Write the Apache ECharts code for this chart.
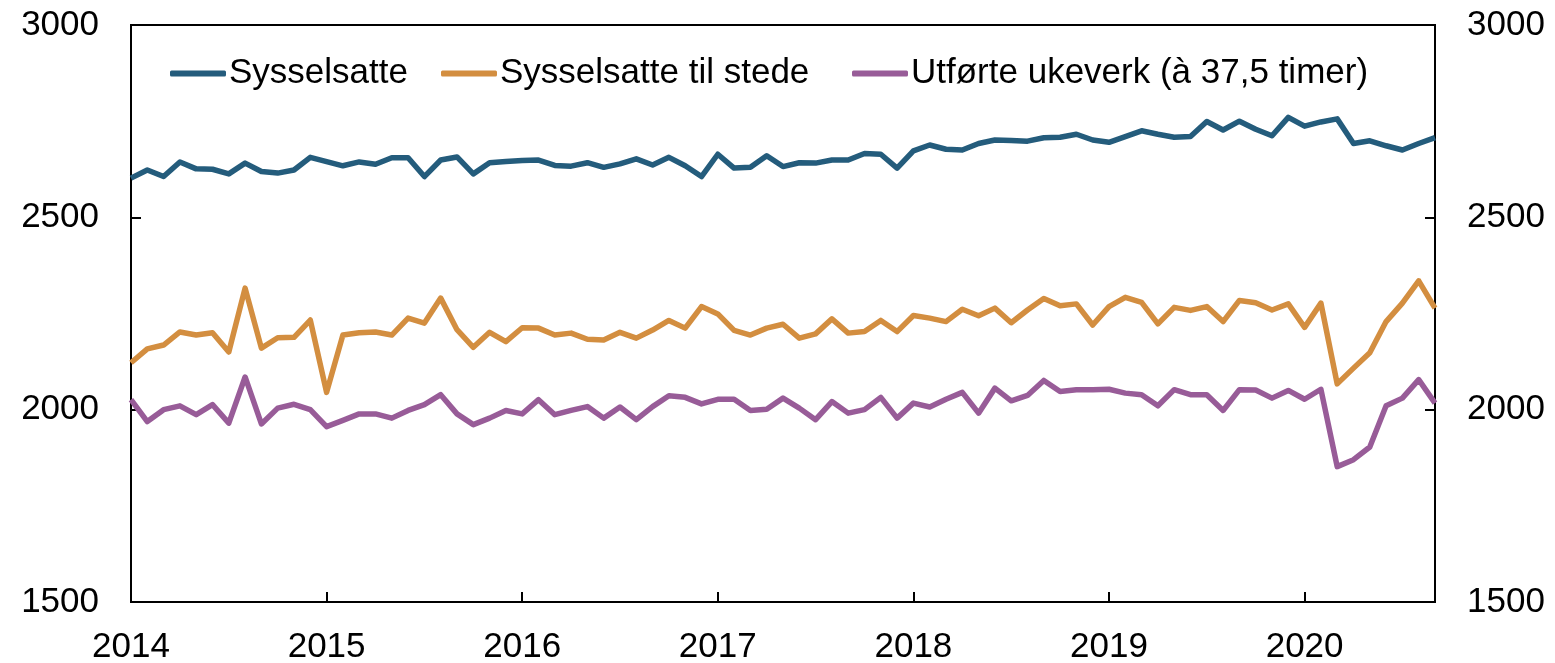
<!DOCTYPE html>
<html>
<head>
<meta charset="utf-8">
<script src="https://cdn.jsdelivr.net/npm/echarts@6/dist/echarts.min.js"></script>
<style>
html,body{margin:0;padding:0;background:#fff;}
#chart{width:1555px;height:663px;}
</style>
</head>
<body>
<div id="chart"></div>
<script>
// Tick labels / categories
const years = [2014, 2015, 2016, 2017, 2018, 2019, 2020];
const yTicks = [1500, 2000, 2500, 3000];
const seriesNames = ['Sysselsatte', 'Sysselsatte til stede', 'Utførte ukeverk (à 37,5 timer)'];

// Monthly values, Jan 2014 - Sep 2020 (thousands)
const sysselsatte = [2602,2623,2606,2644,2626,2625,2613,2641,2619,2615,2623,2656,
2645,2634,2644,2638,2655,2655,2606,2649,2657,2613,2642,2645,
2648,2649,2635,2633,2642,2630,2639,2652,2636,2656,2634,2606,
2664,2628,2630,2660,2632,2642,2641,2649,2649,2666,2664,2628,
2673,2688,2677,2675,2692,2701,2700,2698,2707,2708,2716,2701,
2695,2710,2725,2716,2708,2710,2749,2727,2750,2729,2712,2760,
2737,2748,2756,2692,2699,2686,2675,2692,2707];

const tilStede = [2122,2158,2168,2202,2194,2200,2150,2316,2160,2187,2188,2233,
2045,2194,2200,2202,2194,2238,2225,2290,2208,2162,2201,2177,
2213,2212,2194,2199,2183,2181,2201,2186,2207,2232,2212,2268,
2249,2206,2194,2212,2222,2186,2197,2236,2199,2203,2232,2203,
2245,2238,2229,2261,2244,2264,2226,2259,2289,2270,2275,2220,
2268,2292,2279,2223,2266,2258,2268,2229,2284,2278,2259,2275,
2214,2277,2067,2108,2148,2229,2277,2335,2264];

const ukeverk = [2026,1969,2000,2010,1987,2013,1965,2085,1963,2004,2014,2000,
1956,1972,1989,1989,1978,1998,2013,2039,1989,1961,1978,1998,
1989,2026,1987,1998,2008,1978,2007,1974,2008,2036,2032,2015,
2027,2027,1998,2001,2030,2004,1974,2021,1991,2000,2032,1978,
2017,2007,2027,2045,1991,2056,2023,2037,2076,2047,2052,2052,
2053,2043,2039,2010,2052,2039,2039,1998,2052,2051,2030,2050,
2027,2053,1852,1870,1903,2010,2030,2078,2017];

const colors = ['#245C7C', '#D38E40', '#985C98'];

const months = [];
for (const y of years) {
  for (let m = 1; m <= 12; m++) {
    if (months.length < sysselsatte.length) months.push(y + '-' + (m < 10 ? '0' + m : m));
  }
}

const font = 'Liberation Sans, Arial, sans-serif';
const fs = 35;

const yAxisBase = (pos) => ({
  type: 'value',
  position: pos,
  min: yTicks[0],
  max: yTicks[yTicks.length - 1],
  interval: 500,
  axisLine: { show: true, lineStyle: { color: '#000', width: 2 } },
  axisTick: { show: true, inside: true, length: 10, lineStyle: { color: '#000', width: 2 } },
  splitLine: { show: false },
  axisLabel: { color: '#000', fontSize: fs, fontFamily: font, margin: 32, formatter: (v) => String(v) }
});

const chart = echarts.init(document.getElementById('chart'), null, { renderer: 'canvas' });
chart.setOption({
  animation: false,
  backgroundColor: '#fff',
  color: colors,
  grid: { left: 131, right: 120, top: 25, bottom: 61, containLabel: false, outerBoundsMode: 'none', show: true, borderColor: '#000', borderWidth: 2, backgroundColor: 'transparent' },
  legend: [0, 1, 2].map((i) => ({
    data: [{ name: seriesNames[i], icon: 'roundRect' }],
    left: [170, 441, 852][i],
    top: 56,
    itemWidth: 56,
    itemHeight: 6,
    padding: 0,
    textStyle: { color: '#000', fontSize: fs, fontFamily: font, padding: [0, 0, 0, -2] }
  })),
  xAxis: {
    type: 'category',
    boundaryGap: false,
    data: months,
    axisLine: { show: true, lineStyle: { color: '#000', width: 2 } },
    axisTick: { show: true, inside: true, length: 10, interval: (i) => i % 12 === 0, lineStyle: { color: '#000', width: 2 } },
    axisLabel: {
      color: '#000', fontSize: fs, fontFamily: font, margin: 28,
      interval: (i) => i % 12 === 0,
      formatter: (v) => v.slice(0, 4)
    },
    splitLine: { show: false }
  },
  yAxis: [yAxisBase('left'), yAxisBase('right')],
  series: [sysselsatte, tilStede, ukeverk].map((d, i) => ({
    name: seriesNames[i],
    type: 'line',
    data: d,
    symbol: 'none',
    lineStyle: { width: 5.5, color: colors[i], join: 'round' },
    itemStyle: { color: colors[i] }
  }))
});
</script>
</body>
</html>
